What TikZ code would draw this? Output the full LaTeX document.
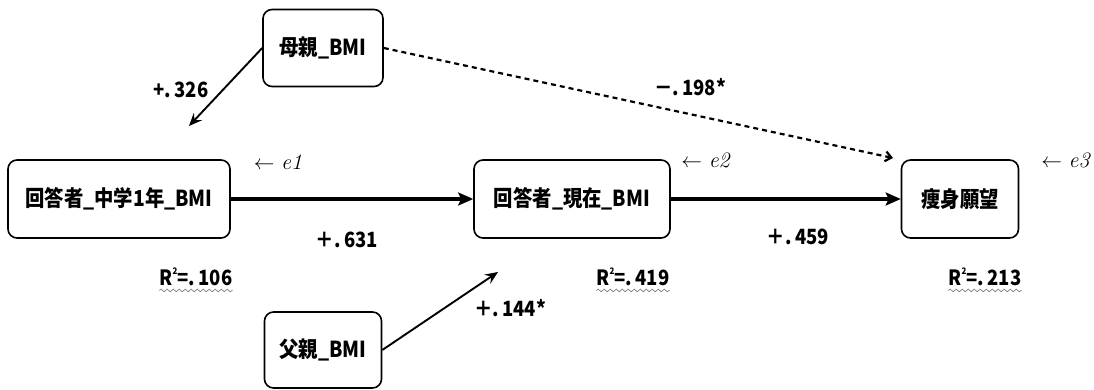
\documentclass[tikz,border=0pt]{standalone}
\usepackage{fontspec}
\newfontfamily\jp{Noto Sans CJK JP}[FakeStretch=0.88]
\usetikzlibrary{arrows.meta,decorations.pathmorphing}
\tikzset{
  box/.style={draw, line width=1.6pt, rounded corners=9pt, inner sep=0pt,
    font=\jp\bfseries\fontsize{22}{26}\selectfont},
  lab/.style={inner sep=0pt, font=\jp\bfseries\fontsize{21}{24}\selectfont},
  errlab/.style={inner sep=0pt, font=\fontsize{22}{26}\selectfont},
  bigarr/.style={line width=3.6pt, -{Stealth[length=15pt,width=13pt,inset=3pt]}},
  thinarr/.style={line width=1.9pt, -{Stealth[length=13pt,width=11pt,inset=5pt]}},
  dotarr/.style={line width=2.2pt, dash pattern=on 5pt off 4pt, -{Straight Barb[length=6pt,width=10pt]}},
  wavy/.style={draw=gray, line width=0.7pt, decorate, decoration={snake, amplitude=1.3pt, segment length=6pt}}
}
\begin{document}
\begin{tikzpicture}[x=1pt,y=-1pt]
\useasboundingbox (0,0) rectangle (1094,390);
\fill[white] (0,0) rectangle (1094,390);
% boxes
\node[box, minimum width=120pt, minimum height=77pt] (m) at (323,48) {母親\_BMI};
\node[box, minimum width=222pt, minimum height=78pt] (a) at (119,199) {回答者\_中学1年\_BMI};
\node[box, minimum width=196pt, minimum height=78pt] (b) at (572,199) {回答者\_現在\_BMI};
\node[box, minimum width=117pt, minimum height=78pt] (c) at (960,199) {痩身願望};
\node[box, minimum width=117pt, minimum height=76pt] (f) at (323,350) {父親\_BMI};
% free ends
\coordinate (p1) at (189,126);
\coordinate (p2) at (498,272);
\coordinate (p3) at (893,158);
% connectors
\draw[thinarr] (m.west) -- (p1);
\draw[dotarr] (m.east) -- (p3);
\draw[bigarr] (a.east) -- (b.west);
\draw[bigarr] (b.east) -- (c.west);
\draw[thinarr] (f.east) -- (p2);
% coefficient labels
\node[lab] (l1) at (181,90) {+.\,326};
\node[lab] (l2) at (690,87) {－.\,198*};
\node[lab] (l3) at (347,240) {＋.\,631};
\node[lab] (l4) at (798,237) {＋.\,459};
\node[lab] (l5) at (510,308) {＋.\,144*};
% error terms
\node[errlab] (e1) at (278,162) {$\leftarrow$ \textit{e1}};
\node[errlab] (e2) at (706,160) {$\leftarrow$ \textit{e2}};
\node[errlab] (e3) at (1066,160) {$\leftarrow$ \textit{e3}};
% R squared
\node[lab] (r1) at (196,277) {R\raisebox{0.55em}{\fontsize{9}{9}\selectfont 2}=.\,106};
\node[lab] (r2) at (633,277) {R\raisebox{0.55em}{\fontsize{9}{9}\selectfont 2}=.\,419};
\node[lab] (r3) at (985,277) {R\raisebox{0.55em}{\fontsize{9}{9}\selectfont 2}=.\,213};
\draw[wavy] ([yshift=-4pt]r1.south west) -- ([yshift=-4pt]r1.south east);
\draw[wavy] ([yshift=-4pt]r2.south west) -- ([yshift=-4pt]r2.south east);
\draw[wavy] ([yshift=-4pt]r3.south west) -- ([yshift=-4pt]r3.south east);
\end{tikzpicture}
\end{document}
